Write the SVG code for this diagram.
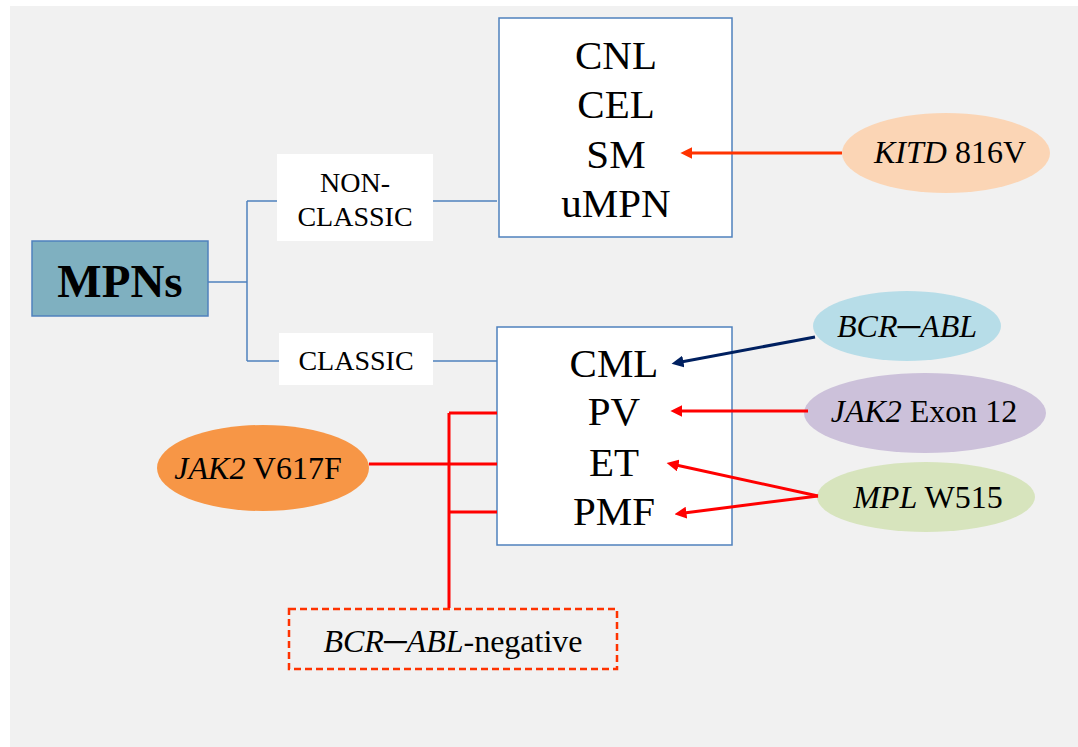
<svg xmlns="http://www.w3.org/2000/svg" width="1078" height="747" viewBox="0 0 1078 747">
<defs>
<style>
.t{fill:#000;text-anchor:middle}
.big{font-size:41px}
.mid{font-size:32px}
.sm{font-size:28px}
.box{fill:#fff;stroke:#4f81bd;stroke-width:1.5}
.blue{stroke:#4f81bd;stroke-width:1.5;fill:none}
.red{stroke:#ff0000;stroke-width:3;fill:none}
</style>
<marker id="ar" viewBox="0 0 10 10" refX="2" refY="5" markerWidth="4" markerHeight="4" orient="auto" markerUnits="strokeWidth"><path d="M10,5 L0,0 L0,10 Z" fill="#ff0000"/></marker>
<marker id="ao" viewBox="0 0 10 10" refX="2" refY="5" markerWidth="4" markerHeight="4" orient="auto" markerUnits="strokeWidth"><path d="M10,5 L0,0 L0,10 Z" fill="#ff3300"/></marker>
<marker id="an" viewBox="0 0 10 10" refX="2" refY="5" markerWidth="4" markerHeight="4" orient="auto" markerUnits="strokeWidth"><path d="M10,5 L0,0 L0,10 Z" fill="#002060"/></marker>
</defs>
<rect x="10" y="6" width="1068" height="741" fill="#f1f1f1"/>
<g font-family="'Liberation Serif', Tinos, 'Times New Roman', 'DejaVu Serif', serif">
<g id="mpns">
<rect x="32" y="241" width="176" height="75" fill="#7fb0c0" stroke="#4f81bd" stroke-width="1.5"/>
<text class="t" x="120" y="297" font-size="47" font-weight="bold">MPNs</text>
</g>
<g id="nonclassic">
<rect x="277" y="154" width="156" height="87" fill="#fff"/>
<text class="t sm" x="355" y="192">NON-</text>
<text class="t sm" x="355" y="226">CLASSIC</text>
</g>
<g id="classic">
<rect x="279" y="333" width="154" height="52" fill="#fff"/>
<text class="t sm" x="356" y="370">CLASSIC</text>
</g>
<g id="nonclassic-list">
<rect class="box" x="499" y="18" width="233" height="219"/>
<text class="t big" x="616" y="69">CNL</text>
<text class="t big" x="616" y="118">CEL</text>
<text class="t big" x="616" y="168">SM</text>
<text class="t big" x="616" y="217">uMPN</text>
</g>
<g id="classic-list">
<rect class="box" x="497" y="327" width="235" height="218"/>
<text class="t big" x="614" y="377">CML</text>
<text class="t big" x="614" y="425">PV</text>
<text class="t big" x="614" y="476">ET</text>
<text class="t big" x="614" y="525">PMF</text>
</g>
<g id="kitd">
<ellipse cx="946" cy="153" rx="104" ry="40" fill="#fbd5b5"/>
<text class="t mid" x="950" y="163"><tspan font-style="italic">KITD</tspan> 816V</text>
</g>
<g id="bcrabl">
<ellipse cx="907" cy="326" rx="94" ry="35" fill="#b7dde8"/>
<text class="t mid" x="907" y="337" font-style="italic">BCR─ABL</text>
</g>
<g id="jak2exon">
<ellipse cx="925" cy="413" rx="121" ry="40" fill="#ccc1da"/>
<text class="t mid" x="924" y="422"><tspan font-style="italic">JAK2</tspan> Exon 12</text>
</g>
<g id="mpl">
<ellipse cx="926" cy="497" rx="109" ry="35" fill="#d7e4bd"/>
<text class="t mid" x="928" y="508"><tspan font-style="italic">MPL</tspan> W515</text>
</g>
<g id="jak2v617f">
<ellipse cx="263" cy="468" rx="106" ry="43" fill="#f79646"/>
<text class="t mid" x="258" y="479"><tspan font-style="italic">JAK2</tspan> V617F</text>
</g>
<g id="bcrneg">
<rect x="289" y="609" width="328" height="60" fill="none" stroke="#ff3300" stroke-width="2.5" stroke-dasharray="7,4"/>
<text class="t mid" x="453" y="652"><tspan font-style="italic">BCR─ABL</tspan>-negative</text>
</g>
</g>
<g id="connectors">
<path class="blue" d="M208,282 H247 M247,201 V361 M247,201 H277 M247,361 H279 M433,201 H497 M433,361 H497"/>
<line x1="842" y1="153" x2="690" y2="153" stroke="#ff3300" stroke-width="3" marker-end="url(#ao)"/>
<line x1="815" y1="337" x2="681" y2="362" stroke="#002060" stroke-width="3" marker-end="url(#an)"/>
<line x1="808" y1="411" x2="680" y2="411" class="red" marker-end="url(#ar)"/>
<line x1="818" y1="496" x2="676" y2="465" class="red" marker-end="url(#ar)"/>
<line x1="818" y1="496" x2="684" y2="513" class="red" marker-end="url(#ar)"/>
<path class="red" d="M369,464 H497 M449,413 V608 M449,413 H497 M449,512 H497"/>
</g>
</svg>
